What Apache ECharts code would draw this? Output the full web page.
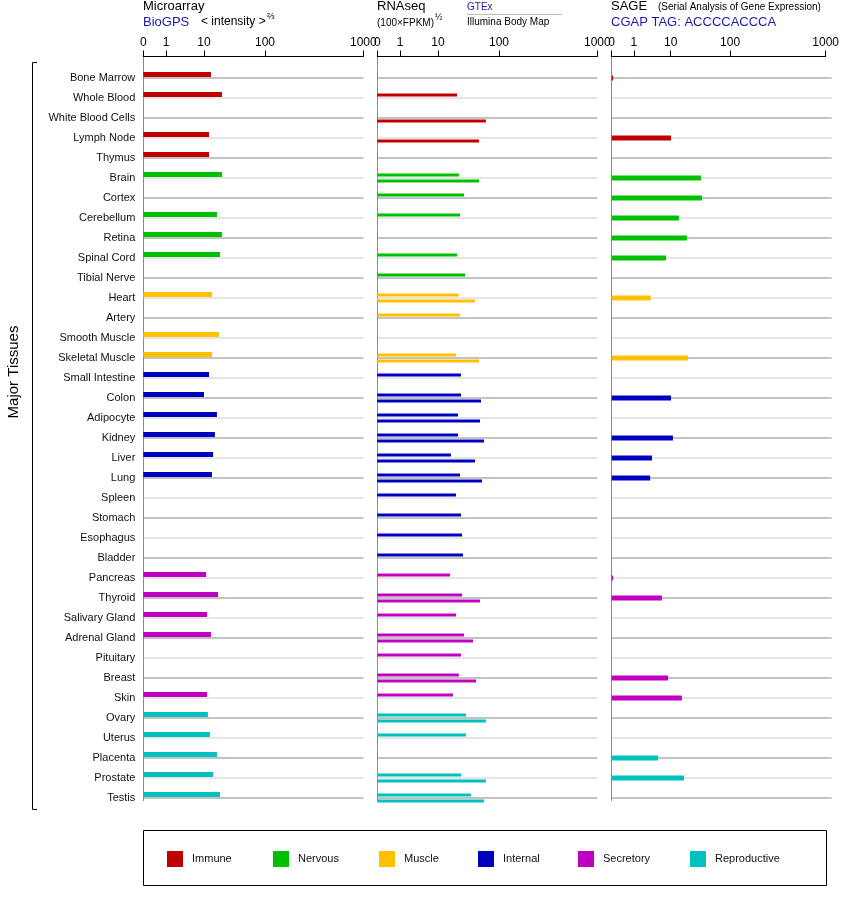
<!DOCTYPE html>
<html><head><meta charset="utf-8">
<script src="https://cdn.jsdelivr.net/npm/echarts@6/dist/echarts.min.js"></script>
<style>html,body{margin:0;padding:0;background:#fff}#c{width:842px;height:900px}</style>
</head><body><div id="c"></div>
<script>
const tissues=["Bone Marrow","Whole Blood","White Blood Cells","Lymph Node","Thymus","Brain","Cortex","Cerebellum","Retina","Spinal Cord","Tibial Nerve","Heart","Artery","Smooth Muscle","Skeletal Muscle","Small Intestine","Colon","Adipocyte","Kidney","Liver","Lung","Spleen","Stomach","Esophagus","Bladder","Pancreas","Thyroid","Salivary Gland","Adrenal Gland","Pituitary","Breast","Skin","Ovary","Uterus","Placenta","Prostate","Testis"];
const groupOf=[0,0,0,0,0,1,1,1,1,1,1,2,2,2,2,3,3,3,3,3,3,3,3,3,3,4,4,4,4,4,4,4,5,5,5,5,5];
const groups=["Immune","Nervous","Muscle","Internal","Secretory","Reproductive"];
const groupColors=["#c00000","#00c000","#ffc000","#0000c0","#c000c0","#00c0c0"];
const tickValues=[0,1,10,100,1000];
const tickLabels=["0","1","10","100","1000"];
const microarray=[13,19.7,null,12.1,12.1,19.7,null,16.3,19.7,18.3,null,13.5,null,17.6,13.5,12.1,10,16.3,15.1,14.1,13.5,null,null,null,null,10.8,17,11.2,13,null,null,11.2,11.6,12.5,16.3,14.1,18.3];
const gtex=[null,20.5,null,null,null,22,26.7,23,null,20.5,27.7,22,23,null,19.7,23.8,23.8,21.3,21.3,16.3,23,19.7,23.8,24.7,25.7,15.7,24.7,19.7,26.7,23.8,22,17.6,28.8,28.8,null,23.8,34.8];
const illumina=[null,null,61,47,null,47,null,null,null,null,null,40.5,null,null,47,null,50.7,48.8,56.8,40.5,52.6,null,null,null,null,null,48.8,null,37.5,null,42,null,61,null,null,61,56.8];
const sage=[0.06,null,null,9.2,null,29.4,30.5,12.8,17.3,6.8,null,2.7,null,null,18,null,9.2,null,10.2,2.9,2.6,null,null,null,null,0.06,5.3,null,null,null,7.7,14.3,null,null,4.2,15.5,null];

const anchorPos=[0,22.7,60.7,121.7,220];
function T(v){
  if(v==null) return null;
  if(v<=1) return v*anchorPos[1];
  const l=Math.log10(v);
  const i=Math.min(3,Math.floor(l)+1);
  const lo=i-1;
  return anchorPos[i]+(anchorPos[i+1]-anchorPos[i])*(l-lo);
}
const tickPos=tickValues.map(T);
const lefts=[143.3,377.3,611.7];
const W=220;
const grids=[],xAxis=[],yAxis=[],series=[];
lefts.forEach((L,p)=>{
  grids.push({left:L,top:56.5,width:W,height:744});
  xAxis.push({gridIndex:grids.length-1,type:'value',position:'top',min:0,max:W,
    axisLine:{show:true,onZero:false,lineStyle:{color:'#000',width:1}},
    axisTick:{show:true,length:6,lineStyle:{color:'#000'},customValues:tickPos},
    axisLabel:{show:true,customValues:tickPos,margin:8,fontSize:12,color:'#000',fontFamily:'Liberation Sans, Arial',
      formatter:v=>{let k=tickPos.findIndex(t=>Math.abs(t-v)<0.01);return k>=0?tickLabels[k]:'';}},
    splitLine:{show:false}});
  yAxis.push({gridIndex:grids.length-1,type:'value',min:0,max:1,axisLine:{show:true,onZero:false,lineStyle:{color:'#888'}},axisTick:{show:false},axisLabel:{show:false},splitLine:{show:false}});
});
function dataGrid(L,showLabels){
  grids.push({left:L,top:68,width:W,height:740});
  const gi=grids.length-1;
  xAxis.push({gridIndex:gi,type:'value',min:0,max:W,show:false});
  yAxis.push({gridIndex:gi,type:'category',inverse:true,data:tissues,axisLine:{show:false},axisTick:{show:false},
    axisLabel:{show:showLabels,margin:8,fontSize:11,color:'#111',fontFamily:'Liberation Sans, Arial'},splitLine:{show:false}});
  return gi;
}
lefts.forEach((L,p)=>{
  const gi=dataGrid(L,p===0);
  series.push({type:'bar',xAxisIndex:gi,yAxisIndex:gi,barWidth:1,silent:true,z:1,
    data:tissues.map((t,i)=>({value:W,itemStyle:{color:i%2?'#cccccc':'#888888'}}))});
});
function colored(arr){return arr.map((v,i)=>v==null?null:{value:T(v),itemStyle:{color:groupColors[groupOf[i]]}});}
let g=dataGrid(lefts[0],false);
series.push({type:'bar',xAxisIndex:g,yAxisIndex:g,barWidth:5,z:3,data:colored(microarray)});
groups.forEach((n,k)=>series.push({type:'bar',name:n,xAxisIndex:g,yAxisIndex:g,data:[],itemStyle:{color:groupColors[k]}}));
g=dataGrid(lefts[1],false);
series.push({type:'bar',xAxisIndex:g,yAxisIndex:g,barWidth:3,barGap:'100%',z:3,data:colored(gtex)});
series.push({type:'bar',xAxisIndex:g,yAxisIndex:g,barWidth:3,barGap:'100%',z:3,data:colored(illumina)});
g=dataGrid(lefts[2],false);
series.push({type:'bar',xAxisIndex:g,yAxisIndex:g,barWidth:5,z:3,data:colored(sage)});

const legendX=[162,268,374,473,573,685];
const legend=groups.map((n,k)=>({data:[n],left:legendX[k],top:846,icon:'rect',itemWidth:16,itemHeight:16,selectedMode:false,
  textStyle:{fontSize:11,color:'#111',padding:[0,0,0,4],fontFamily:'Liberation Sans, Arial'}}));

const F='Liberation Sans, Arial';
const graphic=[
  {type:'text',left:143,top:0,style:{text:'Microarray',font:'13px '+F,fill:'#000'}},
  {type:'text',left:143,top:16,style:{text:'BioGPS',font:'13px '+F,fill:'#1a1aaa'}},
  {type:'text',left:201,top:16,style:{text:'< intensity >',font:'12px '+F,fill:'#000'}},
  {type:'text',left:267,top:12,style:{text:'⅔',font:'9px '+F,fill:'#000'}},
  {type:'text',left:377,top:18,style:{text:'(100×FPKM)',font:'10px '+F,fill:'#000'}},
  {type:'text',left:377,top:0,style:{text:'RNAseq',font:'13px '+F,fill:'#000'}},
  {type:'text',left:435,top:13,style:{text:'½',font:'9px '+F,fill:'#000'}},
  {type:'text',left:467,top:2,style:{text:'GTEx',font:'10px '+F,fill:'#1a1aaa'}},
  {type:'line',shape:{x1:467,y1:14.5,x2:562,y2:14.5},style:{stroke:'#bbb',lineWidth:1}},
  {type:'text',left:467,top:17,style:{text:'Illumina Body Map',font:'10px '+F,fill:'#000'}},
  {type:'text',left:611,top:0,style:{text:'SAGE',font:'13px '+F,fill:'#000'}},
  {type:'text',left:658,top:2,style:{text:'(Serial Analysis of Gene Expression)',font:'10px '+F,fill:'#000'}},
  {type:'text',left:611,top:16,style:{text:'CGAP TAG: ACCCCACCCA',font:'13px '+F,fill:'#1a1aaa'}},
  {type:'text',x:14,y:372,rotation:Math.PI/2,style:{text:'Major Tissues',font:'15px '+F,fill:'#000',textAlign:'center',textVerticalAlign:'middle'}},
  {type:'polyline',shape:{points:[[37,62.5],[32.5,62.5],[32.5,809.5],[37,809.5]]},style:{stroke:'#000',lineWidth:1,fill:null}},
  {type:'rect',shape:{x:143.5,y:830.5,width:683,height:55},style:{stroke:'#000',lineWidth:1,fill:null}}
];
const chart=echarts.init(document.getElementById('c'),null,{renderer:'canvas'});
chart.setOption({animation:false,grid:grids,xAxis,yAxis,series,legend,graphic});
</script></body></html>
